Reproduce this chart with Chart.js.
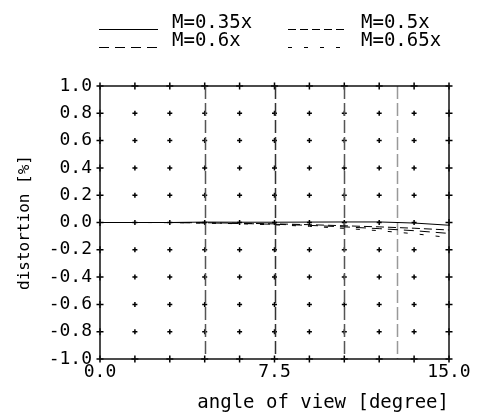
<!DOCTYPE html>
<html>
<head>
<meta charset="utf-8">
<script src="https://cdn.jsdelivr.net/npm/chart.js@4/dist/chart.umd.min.js"></script>
<style>
  html, body { margin: 0; padding: 0; background: #fff; }
  #wrap { width: 482px; height: 416px; }
</style>
</head>
<body>
<div id="wrap"><canvas id="c" width="482" height="416"></canvas></div>
<script>
// angle of view [degree]
var angles = [0, 1.5, 3, 4.5, 6, 7.5, 9, 10.5, 12, 13.5, 15];
// distortion [%] per magnification
var m035 = [0, 0, 0, 0.003, 0.002, 0.002, 0.003, 0.004, 0.004, -0.004, -0.02];
var m050 = [0, 0, 0, -0.002, -0.005, -0.01, -0.016, -0.024, -0.032, -0.042, -0.055];
var m060 = [0, 0, 0, -0.003, -0.007, -0.013, -0.021, -0.032, -0.045, -0.06, -0.08];
var m065 = [0, 0, -0.001, -0.004, -0.009, -0.017, -0.028, -0.043, -0.06, -0.082, -0.11];
var seriesLabels = ['M=0.35x', 'M=0.5x', 'M=0.6x', 'M=0.65x'];
// angles marked with dashed verticals
var markAngles = [4.5, 7.5, 10.5, 12.75];
var markColors = ['#555', '#333', '#555', '#999'];
// x tick labels shown
var xLabelValues = [0, 7.5, 15];

var FONT = '"DejaVu Sans Mono", "Liberation Mono", monospace';

function pts(vals) {
  return angles.map(function(a, i) { return {x: a, y: vals[i]}; });
}

function ds(label, vals, dash) {
  return {
    label: label,
    data: pts(vals),
    borderColor: '#000',
    borderWidth: 1,
    borderDash: dash,
    pointRadius: 0,
    tension: 0,
    fill: false
  };
}

// crosses at tick intersections + dashed marker lines
var gridPlugin = {
  id: 'crossGrid',
  beforeDatasetsDraw: function(chart) {
    var ctx = chart.ctx, xs = chart.scales.x, ys = chart.scales.y;
    var area = chart.chartArea;
    ctx.save();
    ctx.strokeStyle = '#000';
    ctx.lineWidth = 1.5;
    xs.ticks.forEach(function(tx) {
      var px = xs.getPixelForValue(tx.value);
      ys.ticks.forEach(function(ty) {
        var py = ys.getPixelForValue(ty.value);
        var r = (px < area.left + 1 || px > area.right - 1 || py < area.top + 1 || py > area.bottom - 1) ? 3.5 : 2.5;
        ctx.beginPath();
        ctx.moveTo(px - r, py); ctx.lineTo(px + r, py);
        ctx.moveTo(px, py - r); ctx.lineTo(px, py + r);
        ctx.stroke();
      });
    });
    ctx.setLineDash([13, 4]);
    markAngles.forEach(function(a, i) {
      var px = Math.round(xs.getPixelForValue(a)) + 0.5;
      ctx.strokeStyle = markColors[i];
      ctx.beginPath();
      ctx.moveTo(px, area.top);
      ctx.lineTo(px, area.bottom);
      ctx.stroke();
    });
    ctx.restore();
  },
  afterDatasetsDraw: function(chart) {
    var ctx = chart.ctx, a = chart.chartArea;
    ctx.save();
    ctx.strokeStyle = '#111';
    ctx.lineWidth = 1.5;
    ctx.strokeRect(a.left, a.top, a.right - a.left, a.bottom - a.top);
    ctx.restore();
  }
};

// two column legend at the top
var legendPlugin = {
  id: 'twoColLegend',
  afterDraw: function(chart) {
    var ctx = chart.ctx;
    var colX = [99, 288], rowY = [28, 46];
    ctx.save();
    ctx.font = '19px ' + FONT;
    ctx.fillStyle = '#000';
    ctx.textBaseline = 'alphabetic';
    chart.data.datasets.forEach(function(d, i) {
      var x = colX[i % 2], y = rowY[Math.floor(i / 2)];
      ctx.strokeStyle = '#000';
      ctx.lineWidth = 1;
      ctx.setLineDash(d.borderDash || []);
      ctx.beginPath();
      ctx.moveTo(x, y + 1.5);
      ctx.lineTo(x + 59, y + 1.5);
      ctx.stroke();
      ctx.fillText(d.label, x + 73, y);
    });
    ctx.restore();
  }
};

new Chart(document.getElementById('c'), {
  type: 'line',
  data: {
    datasets: [
      ds(seriesLabels[0], m035, []),
      ds(seriesLabels[1], m050, [8, 4]),
      ds(seriesLabels[2], m060, [10, 6]),
      ds(seriesLabels[3], m065, [4, 12])
    ]
  },
  options: {
    responsive: false,
    animation: false,
    devicePixelRatio: 1,
    layout: { padding: { top: 86, right: 33, left: 0, bottom: 0 } },
    plugins: {
      legend: { display: false },
      tooltip: { enabled: false }
    },
    scales: {
      x: {
        type: 'linear',
        min: 0,
        max: 15,
        grid: { display: false, drawTicks: false },
        border: { display: false },
        ticks: {
          stepSize: 1.5,
          autoSkip: false,
          maxRotation: 0,
          padding: 3,
          color: '#000',
          font: { family: FONT, size: 18 },
          callback: function(v) {
            return xLabelValues.indexOf(Math.round(v * 100) / 100) >= 0 ? v.toFixed(1) : '';
          }
        },
        title: {
          display: true,
          text: 'angle of view [degree]',
          align: 'end',
          color: '#000',
          font: { family: FONT, size: 19 },
          padding: { top: 2, bottom: 2 }
        },
        afterFit: function(s) { s.height = 57; }
      },
      y: {
        min: -1,
        max: 1,
        grid: { display: false, drawTicks: false },
        border: { display: false },
        ticks: {
          stepSize: 0.2,
          autoSkip: false,
          padding: 8,
          color: '#000',
          font: { family: FONT, size: 18 },
          callback: function(v) { return (Math.round(v * 10) / 10).toFixed(1); }
        },
        title: {
          display: true,
          text: 'distortion [%]',
          color: '#000',
          font: { family: FONT, size: 16 },
          padding: { top: 15, bottom: 15 }
        },
        afterFit: function(s) { s.width = 100; }
      }
    }
  },
  plugins: [gridPlugin, legendPlugin]
});
</script>
</body>
</html>
